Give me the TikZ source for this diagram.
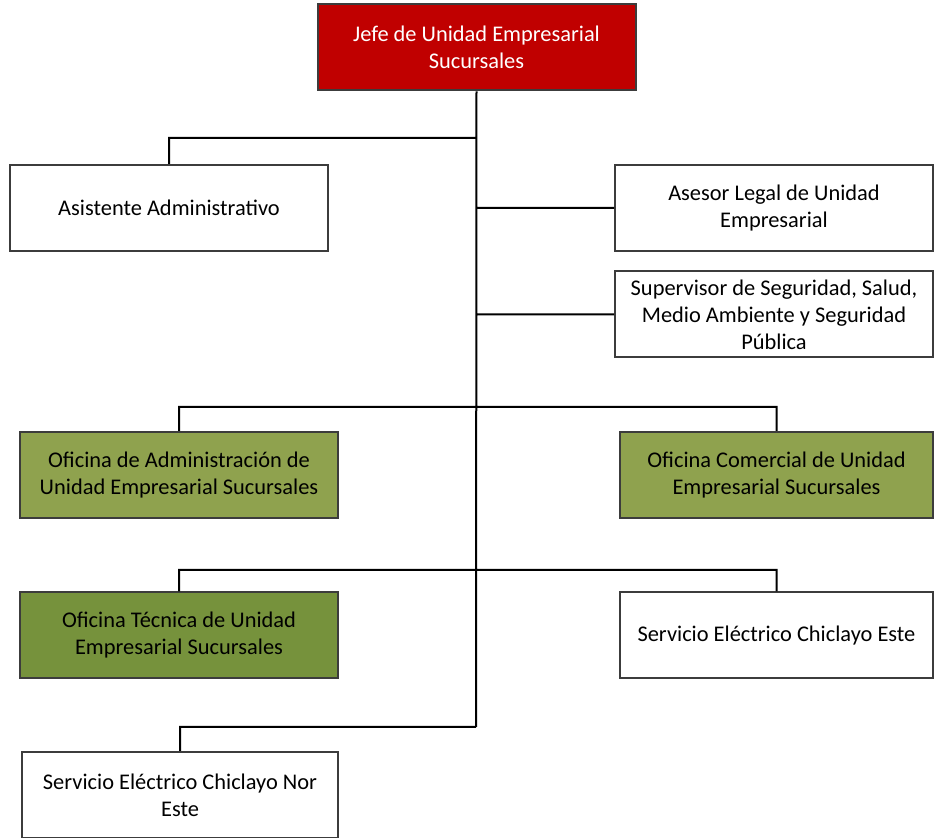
\documentclass[tikz,border=0pt]{standalone}
\usepackage{fontspec}
\setmainfont{Carlito}
\usetikzlibrary{positioning, calc}
\definecolor{cJefe}{RGB}{192,0,0}
\definecolor{cOfi}{RGB}{143,162,78}
\definecolor{cTec}{RGB}{118,146,60}
\definecolor{cBorde}{RGB}{60,60,60}

\begin{document}
\begin{tikzpicture}[x=0.5pt, y=-0.5pt, thick,
                    every node/.style={font=\fontsize{11.2}{13.5}\selectfont},
                    cargo/.style={draw=cBorde, line width=1pt, fill=white, minimum width=159pt, minimum height=43pt, align=center, inner sep=2pt},
                    jefe/.style={cargo, fill=cJefe, text=white},
                    oficina/.style={cargo, fill=cOfi},
                    tecnica/.style={cargo, fill=cTec},
                    linea/.style={draw=black, line width=1pt}]
    \useasboundingbox (0,0) rectangle (934,838);

    % Cargos
    \node[jefe] (J) at (476.5,47.5) {Jefe de Unidad Empresarial\\Sucursales};
    \node[cargo] (AA) at (169,208) {Asistente Administrativo};
    \node[cargo] (AL) at (774,208) {Asesor Legal de Unidad\\Empresarial};
    \node[cargo] (SS) at (774,314.5) {Supervisor de Seguridad, Salud,\\Medio Ambiente y Seguridad\\Pública};
    \node[oficina] (OA) at (179,475) {Oficina de Administración de\\Unidad Empresarial Sucursales};
    \node[oficina, minimum width=156.5pt] (OC) at (776.5,475) {Oficina Comercial de Unidad\\Empresarial Sucursales};
    \node[tecnica] (OT) at (179,635.5) {Oficina Técnica de Unidad\\Empresarial Sucursales};
    \node[cargo, minimum width=156.5pt] (SE) at (776.5,635.5) {Servicio Eléctrico Chiclayo Este};
    \node[cargo, minimum width=158pt] (SN) at (180,795) {Servicio Eléctrico Chiclayo Nor\\Este};

    % Puntos del tronco
    \coordinate (T1) at (476,138);
    \coordinate (T2) at (476,407);
    \coordinate (T3) at (476,570);
    \coordinate (T4) at (476,727);

    % Conexiones
    \path[linea]
    (J.south) -- (T4)
    (T1) -| (AA.north)
    (AL.west) -- (AL.west -| T1)
    (SS.west) -- (SS.west -| T1)
    (OA.north) |- (T2) -| (OC.north)
    (OT.north) |- (T3) -| (SE.north)
    (T4) -| (SN.north);

\end{tikzpicture}
\end{document}
